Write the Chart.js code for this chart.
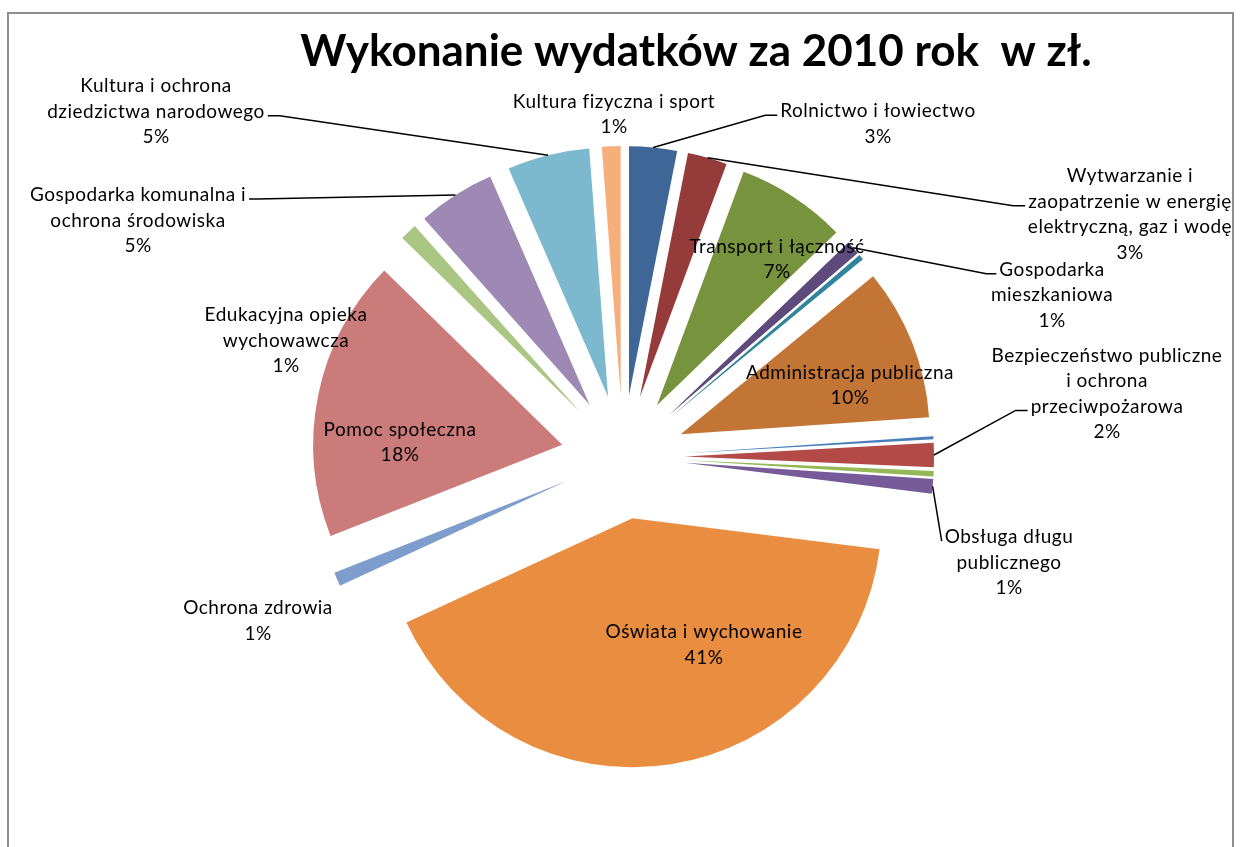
<!DOCTYPE html>
<html lang="pl">
<head>
<meta charset="utf-8">
<title>Wykonanie wydatków za 2010 rok w zł.</title>
<script src="https://cdn.jsdelivr.net/npm/chart.js@4.4.1/dist/chart.umd.min.js"></script>
<style>
	html, body { margin:0; padding:0; background:#fff; }
	canvas { display:block; }
</style>
</head>
<body>
<canvas id="wydatki-chart" width="1241" height="847"></canvas>
<script>

	/******************************************************************************
	 								DANE
	 ****************************************************************************** */

	var tytul = 'Wykonanie wydatków za 2010 rok  w zł.';

	var dzialy = [
		'Rolnictwo i łowiectwo',
		'Wytwarzanie i\nzaopatrzenie w energię\nelektryczną, gaz i wodę',
		'Transport i łączność',
		'Gospodarka\nmieszkaniowa',
		'Działalność usługowa',
		'Administracja publiczna',
		'Urzędy naczelnych organów władzy państwowej',
		'Bezpieczeństwo publiczne\ni ochrona\nprzeciwpożarowa',
		'Dochody od osób prawnych i fizycznych',
		'Obsługa długu\npublicznego',
		'Oświata i wychowanie',
		'Ochrona zdrowia',
		'Pomoc społeczna',
		'Edukacyjna opieka\nwychowawcza',
		'Gospodarka komunalna i\nochrona środowiska',
		'Kultura i ochrona\ndziedzictwa narodowego',
		'Kultura fizyczna i sport'
	];

	// udzial w wydatkach (%)
	var udzial = [3.08, 2.55, 7.1, 0.9, 0.35, 9.8, 0.2, 1.55, 0.35, 0.95, 40.9, 0.9, 18.2, 1.1, 5.0, 5.3, 1.2];

	var kolory = ['#3E6797','#953B3A','#78933D','#5F4B7B','#31849B','#C27534','#4A7EBB','#B34A48',
				  '#95B756','#775A99','#E98D41','#7F9DCC','#CB7B79','#ABC582','#9D89B4','#7DB9CE','#F6AE7B'];

	/******************************************************************************
	 								UKLAD
	 ****************************************************************************** */

	var PROMIEN = 249;		// promien kola
	var WYBUCH  = 62;		// odsuniecie wycinkow od srodka
	var WIERSZ  = 25.5;		// odstep wierszy etykiet
	var FONT    = 'Lato, "Open Sans", sans-serif';

	// srodek etykiety wzgledem srodka kola (px), linia = linia odniesienia
	var etykiety = [
		{dx: 255,  dy: -333,   linia: {wiersz: 0, strona: -1, ogon: 12}},
		{dx: 507,  dy: -242.5, linia: {wiersz: 1, strona: -1, ogon: 12}},
		{dx: 154,  dy: -197.5},
		{dx: 429,  dy: -161.7, linia: {wiersz: 0, strona: -1, ogon: 10}},
		null,
		{dx: 227,  dy: -71.5},
		null,
		{dx: 484,  dy: -63.3,  linia: {wiersz: 2, strona: -1, ogon: 12}},
		null,
		{dx: 386,  dy: 105.7,  linia: {wiersz: 0, strona: -1, ogon: 0}},
		{dx: 81,   dy: 188},
		{dx: -365, dy: 164},
		{dx: -223, dy: -14.5},
		{dx: -337, dy: -116.5},
		{dx: -485, dy: -236.5, linia: {wiersz: 0, strona: 1, ogon: 8}},
		{dx: -467, dy: -345.3, linia: {wiersz: 1, strona: 1, ogon: 12}},
		{dx: -9,   dy: -342.5}
	];

	// ramka wykresu i tytul
	var ramkaPlugin = {
		id: 'ramka',
		beforeDraw: function(chart){
			var ctx = chart.ctx;
			ctx.save();
			ctx.fillStyle = '#fff';
			ctx.fillRect(0, 0, chart.width, chart.height);
			ctx.strokeStyle = '#8e8e8e';
			ctx.lineWidth = 2;
			ctx.strokeRect(8, 13, 1225, 860);
			ctx.restore();
		},
		afterDraw: function(chart){
			var ctx = chart.ctx;
			ctx.save();
			ctx.font = 'bold 44px ' + FONT;
			ctx.fillStyle = '#000';
			ctx.textAlign = 'center';
			ctx.textBaseline = 'alphabetic';
			ctx.fillText(tytul, 696, 66);
			ctx.restore();
		}
	};

	// wycinki odsuniete od srodka (rysowane przez ArcElement)
	var wybuchPlugin = {
		id: 'wybuch',
		beforeDatasetDraw: function(chart, args){
			var ctx = chart.ctx;
			args.meta.data.forEach(function(arc){
				var p = arc.getProps(['startAngle', 'endAngle'], true);
				var kat = (p.startAngle + p.endAngle) / 2;
				ctx.save();
				ctx.translate(Math.cos(kat) * WYBUCH, Math.sin(kat) * WYBUCH);
				arc.draw(ctx);
				ctx.restore();
			});
			return false;
		}
	};

	var etykietyPlugin = {
		id: 'etykiety',
		afterDatasetsDraw: function(chart){
			var ctx = chart.ctx;
			var meta = chart.getDatasetMeta(0);
			var suma = udzial.reduce(function(a, b){ return a + b; }, 0);
			ctx.save();
			ctx.font = '19px ' + FONT;
			ctx.letterSpacing = '0.5px';
			ctx.fillStyle = '#000';
			ctx.strokeStyle = '#000';
			ctx.lineWidth = 1.5;
			ctx.textAlign = 'center';
			ctx.textBaseline = 'middle';
			meta.data.forEach(function(arc, i){
				var proc = Math.round(udzial[i] / suma * 100);
				var e = etykiety[i];
				if (!proc || !e) return;
				var wiersze = dzialy[i].split('\n').concat([proc + '%']);
				var p = arc.getProps(['x', 'y', 'startAngle', 'endAngle', 'outerRadius'], true);
				var sx = p.x + e.dx;
				var sy = p.y + e.dy - (wiersze.length - 1) * WIERSZ / 2;
				wiersze.forEach(function(w, j){
					ctx.fillText(w, sx, sy + j * WIERSZ);
				});
				if (e.linia) {
					var kat = (p.startAngle + p.endAngle) / 2;
					var r = p.outerRadius + WYBUCH;
					var kx = p.x + Math.cos(kat) * r;
					var ky = p.y + Math.sin(kat) * r;
					var szer = ctx.measureText(wiersze[e.linia.wiersz]).width;
					var lx = sx + e.linia.strona * (szer / 2 + 3);
					var ly = sy + e.linia.wiersz * WIERSZ + 4;
					ctx.beginPath();
					ctx.moveTo(lx, ly);
					ctx.lineTo(lx + e.linia.strona * e.linia.ogon, ly);
					ctx.lineTo(kx, ky);
					ctx.stroke();
				}
			});
			ctx.restore();
		}
	};

	new Chart(document.getElementById('wydatki-chart').getContext('2d'), {
		type: 'pie',
		data: {
			labels: dzialy,
			datasets: [{
				label: 'Wydatki',
				data: udzial,
				backgroundColor: kolory,
				borderWidth: 0
			}]
		},
		options: {
			responsive: false,
			animation: false,
			radius: PROMIEN,
			layout: { padding: { left: 5, top: 67, right: 0, bottom: 0 } },
			plugins: {
				legend: { display: false },
				tooltip: { enabled: false },
				title: { display: false }
			}
		},
		plugins: [ramkaPlugin, wybuchPlugin, etykietyPlugin]
	});

</script>
</body>
</html>
